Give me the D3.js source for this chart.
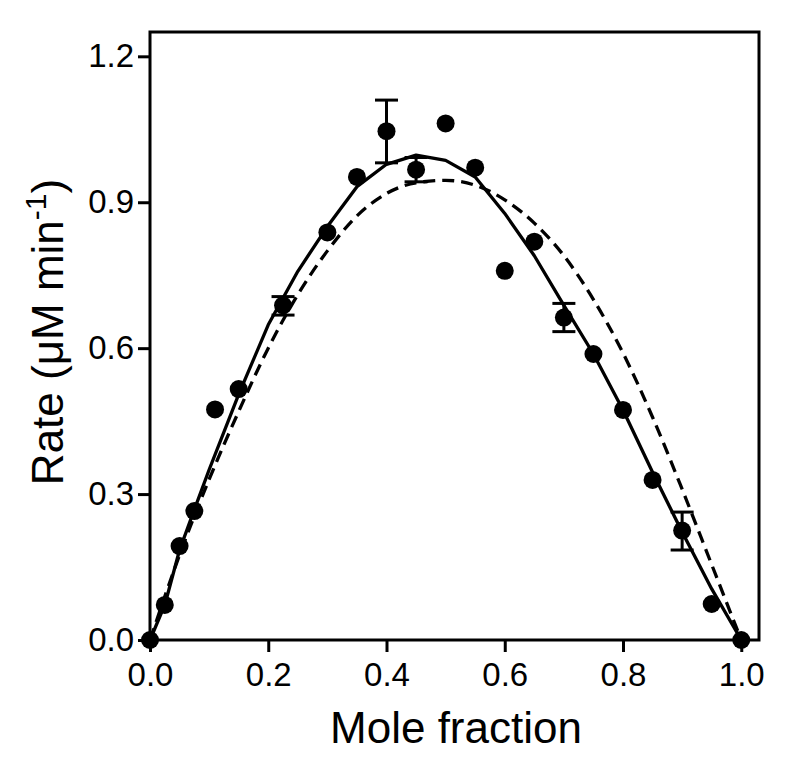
<!DOCTYPE html>
<html>
<head>
<meta charset="utf-8">
<script src="https://cdn.jsdelivr.net/npm/d3@7"></script>
<style>
    body { margin: 0; background: #fff; }
    svg { display: block; font-family: 'Liberation Sans', Arial, Helvetica, sans-serif; }
</style>
</head>
<body>
<svg id="chart"></svg>
<script>
// measured points
const moleFraction = [0, 0.025, 0.05, 0.075, 0.11, 0.15, 0.225, 0.3, 0.35, 0.4, 0.45, 0.5, 0.55, 0.6, 0.65, 0.7, 0.75, 0.8, 0.85, 0.9, 0.95, 1.0];
const rate = [0, 0.072, 0.193, 0.265, 0.474, 0.516, 0.688, 0.838, 0.952, 1.046, 0.967, 1.062, 0.971, 0.759, 0.819, 0.663, 0.588, 0.473, 0.329, 0.225, 0.074, 0];

// error bars (x, low, high)
const errX = [0.225, 0.4, 0.45, 0.7, 0.9];
const errLow = [0.668, 0.981, 0.942, 0.634, 0.185];
const errHigh = [0.706, 1.11, 0.992, 0.692, 0.263];

// solid fit
const fitX = [0, 0.025, 0.05, 0.075, 0.1, 0.15, 0.2, 0.25, 0.3, 0.35, 0.4, 0.45, 0.5, 0.55, 0.6, 0.65, 0.7, 0.75, 0.8, 0.85, 0.9, 0.95, 1.0];
const fitY = [0, 0.072, 0.185, 0.268, 0.35, 0.505, 0.648, 0.758, 0.85, 0.932, 0.978, 0.997, 0.986, 0.952, 0.877, 0.79, 0.688, 0.588, 0.473, 0.345, 0.222, 0.105, 0];

// dashed fit
const dashX = [0, 0.05, 0.1, 0.15, 0.2, 0.25, 0.3, 0.35, 0.4, 0.45, 0.5, 0.55, 0.6, 0.65, 0.7, 0.75, 0.8, 0.85, 0.9, 0.95, 1.0];
const dashY = [0, 0.175, 0.33, 0.47, 0.6, 0.71, 0.8, 0.872, 0.918, 0.94, 0.945, 0.935, 0.905, 0.857, 0.79, 0.7, 0.59, 0.458, 0.31, 0.155, 0];

const xTicks = [0, 0.2, 0.4, 0.6, 0.8, 1.0];
const yTicks = [0, 0.3, 0.6, 0.9, 1.2];

const W = 792, H = 768;
const margin = { left: 150, right: 759, top: 32, bottom: 640 };

const svg = d3.select('#chart').attr('width', W).attr('height', H);

const xScale = d3.scaleLinear().domain([0, 1.03]).range([margin.left, margin.right]);
const yScale = d3.scaleLinear().domain([0, 1.25]).range([margin.bottom, margin.top]);

// frame
svg.append('rect')
    .attr('x', margin.left)
    .attr('y', margin.top)
    .attr('width', margin.right - margin.left)
    .attr('height', margin.bottom - margin.top)
    .attr('fill', 'none')
    .attr('stroke', '#000')
    .attr('stroke-width', 3);

const xAxis = d3.axisBottom(xScale)
    .tickValues(xTicks)
    .tickSize(12)
    .tickPadding(11)
    .tickFormat(d3.format('.1f'));

const yAxis = d3.axisLeft(yScale)
    .tickValues(yTicks)
    .tickSize(12)
    .tickPadding(4)
    .tickFormat(d3.format('.1f'));

const gX = svg.append('g')
    .attr('transform', 'translate(0,' + margin.bottom + ')')
    .call(xAxis);
const gY = svg.append('g')
    .attr('transform', 'translate(' + margin.left + ',0)')
    .call(yAxis);

[gX, gY].forEach(g => {
    g.select('.domain').remove();
    g.selectAll('.tick line').attr('stroke', '#000').attr('stroke-width', 3);
    g.selectAll('.tick text')
        .attr('fill', '#000')
        .style('font-size', '33px')
        .style('font-family', "'Liberation Sans', Arial, sans-serif");
});

// fit lines
const fitLine = d3.line()
    .x(d => xScale(d[0]))
    .y(d => yScale(d[1]));

svg.append('path')
    .datum(dashX.map((x, i) => [x, dashY[i]]))
    .attr('d', fitLine.curve(d3.curveMonotoneX))
    .attr('fill', 'none')
    .attr('stroke', '#000')
    .attr('stroke-width', 3.3)
    .attr('stroke-dasharray', '12,7');

svg.append('path')
    .datum(fitX.map((x, i) => [x, fitY[i]]))
    .attr('d', fitLine.curve(d3.curveLinear))
    .attr('fill', 'none')
    .attr('stroke', '#000')
    .attr('stroke-width', 3.3)
    .attr('stroke-linejoin', 'round');

// error bars
const err = svg.append('g').attr('class', 'errors');
errX.forEach((x, i) => {
    const cx = xScale(x);
    err.append('line')
        .attr('x1', cx).attr('x2', cx)
        .attr('y1', yScale(errLow[i])).attr('y2', yScale(errHigh[i]))
        .attr('stroke', '#000').attr('stroke-width', 3);
    [errLow[i], errHigh[i]].forEach(v => {
        err.append('line')
            .attr('x1', cx - 11.5).attr('x2', cx + 11.5)
            .attr('y1', yScale(v)).attr('y2', yScale(v))
            .attr('stroke', '#000').attr('stroke-width', 3);
    });
});

// points
svg.append('g')
    .selectAll('circle')
    .data(moleFraction)
    .enter()
    .append('circle')
    .attr('cx', d => xScale(d))
    .attr('cy', (d, i) => yScale(rate[i]))
    .attr('r', 9)
    .attr('fill', '#000');

// axis titles
svg.append('text')
    .attr('x', 456)
    .attr('y', 743)
    .attr('text-anchor', 'middle')
    .style('font-size', '44px')
    .text('Mole fraction');

const yTitle = svg.append('text')
    .attr('transform', 'translate(63,332) rotate(-90)')
    .attr('text-anchor', 'middle')
    .style('font-size', '44px');
yTitle.append('tspan').text('Rate (\u03BCM min');
yTitle.append('tspan').attr('dy', -17).style('font-size', '30px').text('-1');
yTitle.append('tspan').attr('dy', 17).text(')');
</script>
</body>
</html>
